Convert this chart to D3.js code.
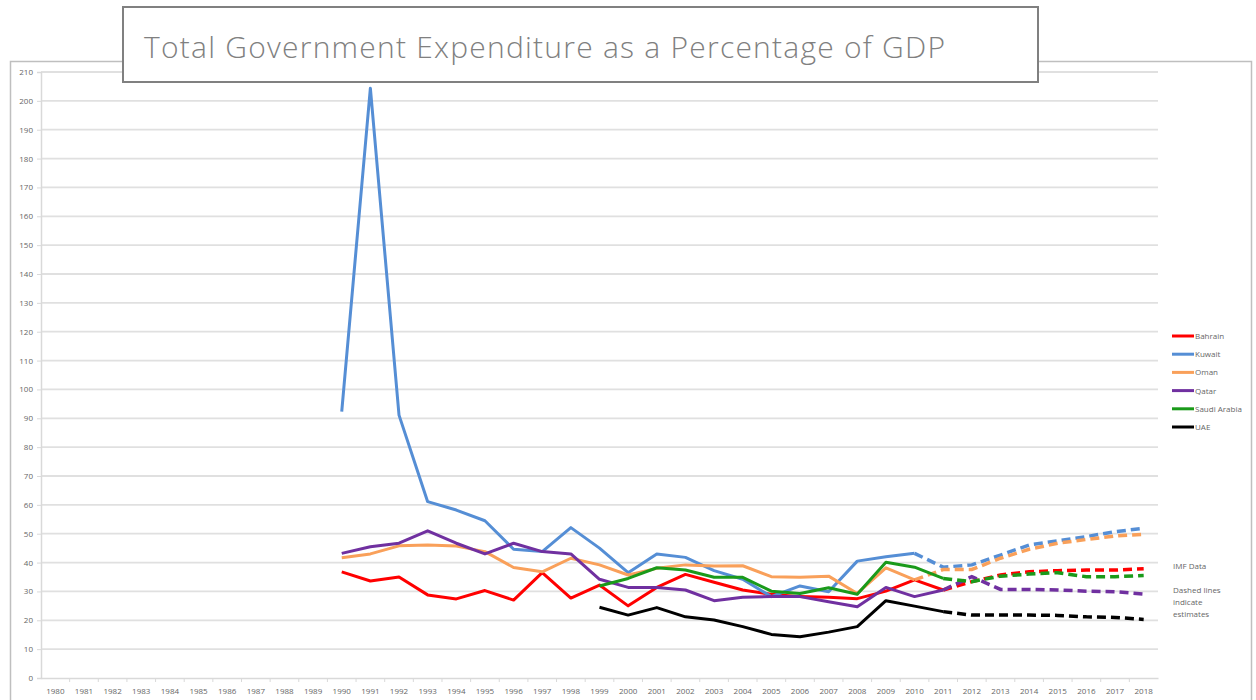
<!DOCTYPE html>
<html>
<head>
<meta charset="utf-8">
<script src="https://cdn.jsdelivr.net/npm/d3@7"></script>
<style>
  body { margin: 0; background: #fff; }
  text { font-family: "Open Sans", "Noto Sans", sans-serif; }
</style>
</head>
<body>
<div id="chart"></div>
<script>
// categories on the x axis
const years = [1980, 1981, 1982, 1983, 1984, 1985, 1986, 1987, 1988, 1989,
  1990, 1991, 1992, 1993, 1994, 1995, 1996, 1997, 1998, 1999,
  2000, 2001, 2002, 2003, 2004, 2005, 2006, 2007, 2008, 2009,
  2010, 2011, 2012, 2013, 2014, 2015, 2016, 2017, 2018];

// years that have values (1990 - 2018)
const dataYears = [1990, 1991, 1992, 1993, 1994, 1995, 1996, 1997, 1998, 1999,
  2000, 2001, 2002, 2003, 2004, 2005, 2006, 2007, 2008, 2009,
  2010, 2011, 2012, 2013, 2014, 2015, 2016, 2017, 2018];

const bahrain = [36.8, 33.6, 35, 28.8, 27.4, 30.3, 27, 36.5, 27.7, 32.2,
  25, 31.4, 35.9, 33.2, 30.5, 29, 28.2, 28, 27.5, 30.1,
  34, 30.5, 33.4, 35.7, 36.8, 37.2, 37.4, 37.4, 37.9];
const kuwait = [92.3, 204.4, 91.1, 61.1, 58.2, 54.5, 44.6, 43.8, 52.1, 45,
  36.5, 43, 41.8, 37.2, 34.2, 28.2, 31.9, 29.9, 40.5, 42,
  43.2, 38.4, 39.2, 42.6, 46.1, 47.5, 49, 50.7, 51.9];
const oman = [41.7, 43, 45.8, 46.1, 45.7, 43.8, 38.3, 36.8, 41.5, 39.2,
  35.7, 38, 39.2, 38.8, 38.9, 35.1, 34.9, 35.3, 29.3, 38.2,
  34, 37.6, 37.6, 41.5, 44.6, 46.7, 48, 49.2, 49.8];
const qatar = [43.2, 45.5, 46.7, 51, 46.7, 43, 46.7, 43.8, 43, 34.2,
  31.4, 31.4, 30.5, 26.8, 28, 28.2, 28.2, 26.4, 24.7, 31.4,
  28.2, 30.5, 35.1, 30.7, 30.7, 30.5, 30.1, 29.9, 29.1];
const saudiArabia = [null, null, null, null, null, null, null, null, null, 31.9,
  34.5, 38.2, 37.4, 34.9, 34.9, 30.1, 29.3, 31.3, 29, 40.1,
  38.4, 34.5, 33.4, 35.3, 36, 36.5, 35.1, 35.1, 35.5];
const uae = [null, null, null, null, null, null, null, null, null, 24.5,
  21.8, 24.4, 21.2, 20.1, 17.8, 15.1, 14.3, 15.9, 17.8, 26.8,
  24.9, 23, 21.8, 21.8, 21.8, 21.7, 21.2, 21, 20.3];

const seriesNames = ["Bahrain", "Kuwait", "Oman", "Qatar", "Saudi Arabia", "UAE"];
const seriesValues = [bahrain, kuwait, oman, qatar, saudiArabia, uae];
// first year drawn as an estimate (dashed)
const estimateFrom = [2011, 2010, 2010, 2011, 2011, 2011];
const seriesColors = ["#ff0000", "#558ed5", "#f9a05a", "#7030a0", "#1a9a1a", "#000000"];

const yTicks = d3.range(0, 211, 10);

var width = 1256;
var height = 700;

var svg = d3.select("#chart")
  .append("svg")
  .attr("width", width)
  .attr("height", height);

// chart frame
svg.append("rect")
  .attr("x", 10.5).attr("y", 61.5)
  .attr("width", 1241).attr("height", 660)
  .attr("fill", "#fff")
  .attr("stroke", "#bfbfbf")
  .attr("stroke-width", 1.5);

var x = d3.scaleBand()
  .domain(years)
  .range([41, 1158])
  .padding(0);

var y = d3.scaleLinear()
  .domain([0, 210])
  .range([678, 72]);

// gridlines
svg.append("g")
  .selectAll("line")
  .data(yTicks.filter(d => d > 0))
  .enter().append("line")
  .attr("x1", 41).attr("x2", 1158)
  .attr("y1", d => y(d)).attr("y2", d => y(d))
  .attr("stroke", "#e0e0e0")
  .attr("stroke-width", 1.8);

// y axis
var yAxis = svg.append("g")
  .attr("transform", "translate(41,0)")
  .call(d3.axisLeft(y).tickValues(yTicks).tickSize(4).tickPadding(4));
yAxis.select(".domain").attr("stroke", "#d9d9d9").attr("stroke-width", 1.5);
yAxis.selectAll(".tick line").attr("stroke", "#d9d9d9");
yAxis.selectAll("text").attr("fill", "#666").style("font-size", "8px");

// x axis
var xAxis = svg.append("g")
  .attr("transform", "translate(0,678)")
  .call(d3.axisBottom(x).tickSize(0).tickPadding(10));
xAxis.select(".domain").attr("stroke", "#d9d9d9").attr("stroke-width", 1.5);
xAxis.selectAll("text").attr("fill", "#666").style("font-size", "8px");
// ticks between categories
xAxis.selectAll(".sep")
  .data(years.slice(1))
  .enter().append("line")
  .attr("x1", d => x(d)).attr("x2", d => x(d))
  .attr("y1", 0).attr("y2", 4)
  .attr("stroke", "#d9d9d9");

var line = d3.line()
  .defined(d => d.value != null)
  .x(d => x(d.year) + x.bandwidth() / 2)
  .y(d => y(d.value));

// series lines
var lines = svg.append("g");
seriesNames.forEach((name, i) => {
  var pts = dataYears.map((yr, j) => ({ year: yr, value: seriesValues[i][j] }));
  var actual = pts.filter(p => p.year <= estimateFrom[i]);
  var est = pts.filter(p => p.year >= estimateFrom[i]);
  lines.append("path")
    .datum(actual)
    .attr("d", line)
    .attr("fill", "none")
    .attr("stroke", seriesColors[i])
    .attr("stroke-width", 3)
    .attr("stroke-linejoin", "round");
  lines.append("path")
    .datum(est)
    .attr("d", line)
    .attr("fill", "none")
    .attr("stroke", seriesColors[i])
    .attr("stroke-width", 3.5)
    .attr("stroke-dasharray", "9,5");
});

// legend
var legend = svg.append("g")
  .selectAll("g")
  .data(seriesNames)
  .enter().append("g")
  .attr("transform", (d, i) => "translate(1172," + (336 + i * 18.2) + ")");
legend.append("line")
  .attr("x1", 0).attr("x2", 22)
  .attr("stroke", (d, i) => seriesColors[i])
  .attr("stroke-width", 3);
legend.append("text")
  .attr("x", 23).attr("y", 3)
  .attr("fill", "#666")
  .style("font-size", "8px")
  .text(d => d);

// notes
var notes = ["IMF Data", "", "Dashed lines", "indicate", "estimates"];
svg.append("g")
  .selectAll("text")
  .data(notes)
  .enter().append("text")
  .attr("x", 1173)
  .attr("y", (d, i) => 569 + i * 12)
  .attr("fill", "#666")
  .style("font-size", "8px")
  .text(d => d);

// title box
svg.append("rect")
  .attr("x", 123).attr("y", 7)
  .attr("width", 915).attr("height", 75)
  .attr("fill", "#fff")
  .attr("stroke", "#808080")
  .attr("stroke-width", 2);
svg.append("text")
  .attr("x", 144).attr("y", 58)
  .attr("fill", "#808080")
  .attr("textLength", 801)
  .attr("lengthAdjust", "spacing")
  .style("font-size", "30px")
  .style("font-weight", 300)
  .text("Total Government Expenditure as a Percentage of GDP");
</script>
</body>
</html>
